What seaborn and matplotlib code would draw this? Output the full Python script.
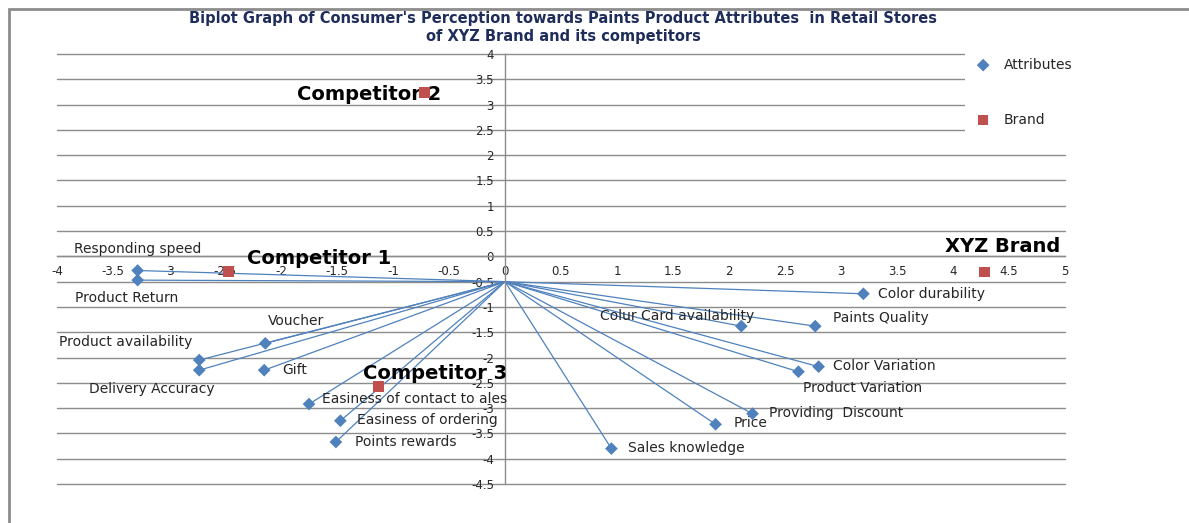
import matplotlib
matplotlib.use('Agg')
import numpy as np
import pandas as pd
import seaborn as sns
import matplotlib.pyplot as plt
from matplotlib.patches import Rectangle

# attribute vectors
attributes = ['Responding speed', 'Product Return', 'Voucher', 'Product availability',
              'Delivery Accuracy', 'Gift', 'Easiness of contact to ales', 'Easiness of ordering',
              'Points rewards', 'Sales knowledge', 'Price', 'Providing  Discount',
              'Product Variation', 'Color Variation', 'Paints Quality',
              'Colur Card availability', 'Color durability']
attr_x = [-3.28, -3.28, -2.14, -2.73, -2.73, -2.15, -1.75, -1.47, -1.51,
          0.95, 1.88, 2.21, 2.62, 2.80, 2.77, 2.11, 3.20]
attr_y = [-0.28, -0.47, -1.72, -2.05, -2.25, -2.25, -2.92, -3.25, -3.67,
          -3.80, -3.32, -3.11, -2.28, -2.18, -1.38, -1.38, -0.74]

# brand points
brands = ['XYZ Brand', 'Competitor 1', 'Competitor 2', 'Competitor 3']
brand_x = [4.28, -2.47, -0.72, -1.13]
brand_y = [-0.31, -0.30, 3.24, -2.57]

# common point the vectors are drawn from
origin_x, origin_y = 0.0, -0.5

x_ticks = np.arange(-4, 5.01, 0.5)
y_ticks = np.arange(-4.5, 4.01, 0.5)

# where the labels sit (left edge / centre)
attr_label_pos = {
    'Responding speed': (-3.85, 0.15), 'Product Return': (-3.84, -0.83),
    'Voucher': (-2.12, -1.28), 'Product availability': (-3.98, -1.70),
    'Delivery Accuracy': (-3.71, -2.63), 'Gift': (-1.99, -2.25),
    'Easiness of contact to ales': (-1.63, -2.81), 'Easiness of ordering': (-1.32, -3.24),
    'Points rewards': (-1.34, -3.66), 'Sales knowledge': (1.10, -3.78),
    'Price': (2.04, -3.30), 'Providing  Discount': (2.36, -3.10),
    'Product Variation': (2.66, -2.61), 'Color Variation': (2.93, -2.17),
    'Paints Quality': (2.93, -1.21), 'Colur Card availability': (0.85, -1.17),
    'Color durability': (3.33, -0.75),
}
brand_label_pos = {
    'XYZ Brand': (4.96, 0.20, 'right'), 'Competitor 1': (-2.30, -0.04, 'left'),
    'Competitor 2': (-1.86, 3.20, 'left'), 'Competitor 3': (-1.27, -2.31, 'left'),
}

attr_df = pd.DataFrame({'name': attributes, 'x': attr_x, 'y': attr_y})
brand_df = pd.DataFrame({'name': brands, 'x': brand_x, 'y': brand_y})

sns.set_style('white')
plt.rcParams['font.family'] = ['DejaVu Sans']

blue = '#4F81BD'
red = '#C0504D'
grid_c = '#8C8C8C'
txt_c = '#262626'

W, H = 1189, 523
fig = plt.figure(figsize=(W / 100, H / 100), dpi=100)
ax = fig.add_axes([57 / W, 1 - 484 / H, (1065 - 57) / W, (484 - 54) / H])

for _, r in attr_df.iterrows():
    ax.plot([origin_x, r.x], [origin_y, r.y], color=blue, lw=0.9, zorder=2)

sns.scatterplot(data=attr_df, x='x', y='y', marker='D', color=blue, s=42,
                edgecolor='none', label='Attributes', ax=ax, zorder=4)
sns.scatterplot(data=brand_df, x='x', y='y', marker='s', color=red, s=55,
                edgecolor='none', label='Brand', ax=ax, zorder=4)

for name, (lx, ly) in attr_label_pos.items():
    ax.text(lx, ly, name, ha='left', va='center', fontsize=10, color=txt_c, zorder=3)
for name, (lx, ly, ha) in brand_label_pos.items():
    ax.text(lx, ly, name, ha=ha, va='center', fontsize=14, fontweight='bold',
            color='black', zorder=3)

ax.set_xlim(-4, 5)
ax.set_ylim(-4.5, 4)
ax.set_xticks(x_ticks)
ax.set_yticks(y_ticks)
ax.set_xticklabels(['%g' % v for v in x_ticks])
ax.set_yticklabels(['%g' % v for v in y_ticks])
ax.set_xlabel('')
ax.set_ylabel('')

ax.spines['left'].set_position(('data', 0))
ax.spines['bottom'].set_position(('data', 0))
for s in ['left', 'bottom']:
    ax.spines[s].set_color(grid_c)
    ax.spines[s].set_linewidth(1)
ax.spines['top'].set_visible(False)
ax.spines['right'].set_visible(False)
ax.yaxis.grid(True, color=grid_c, lw=1)
for gl in ax.get_ygridlines():
    gl.set_clip_on(False)
ax.set_axisbelow(True)
ax.tick_params(axis='x', direction='out', length=3, pad=3, labelsize=8.5,
               colors=grid_c, labelcolor=txt_c)
ax.tick_params(axis='y', length=0, pad=8, labelsize=8.5, labelcolor=txt_c)
ax.patch.set_alpha(0)

leg = ax.legend(loc='upper left', bbox_to_anchor=(0.894, 1.03), frameon=True,
                facecolor='white', edgecolor='none', framealpha=1, fancybox=False,
                labelspacing=2.95, handletextpad=0.9, handlelength=1.2, fontsize=10,
                borderpad=0.7)
for t in leg.get_texts():
    t.set_color(txt_c)

fig.text(563 / W, 1 - 27.5 / H,
         "Biplot Graph of Consumer's Perception towards Paints Product Attributes  in Retail Stores\n"
         "of XYZ Brand and its competitors",
         ha='center', va='center', fontsize=10.5, fontweight='bold', color='#1F2D5A',
         linespacing=1.3)

fig.add_artist(Rectangle((9 / W, -0.1), 1.2, 1 - 9 / H + 0.1, transform=fig.transFigure,
                         fill=False, edgecolor='#8C8C8C', lw=2))

fig.savefig('out.png', dpi=100)
